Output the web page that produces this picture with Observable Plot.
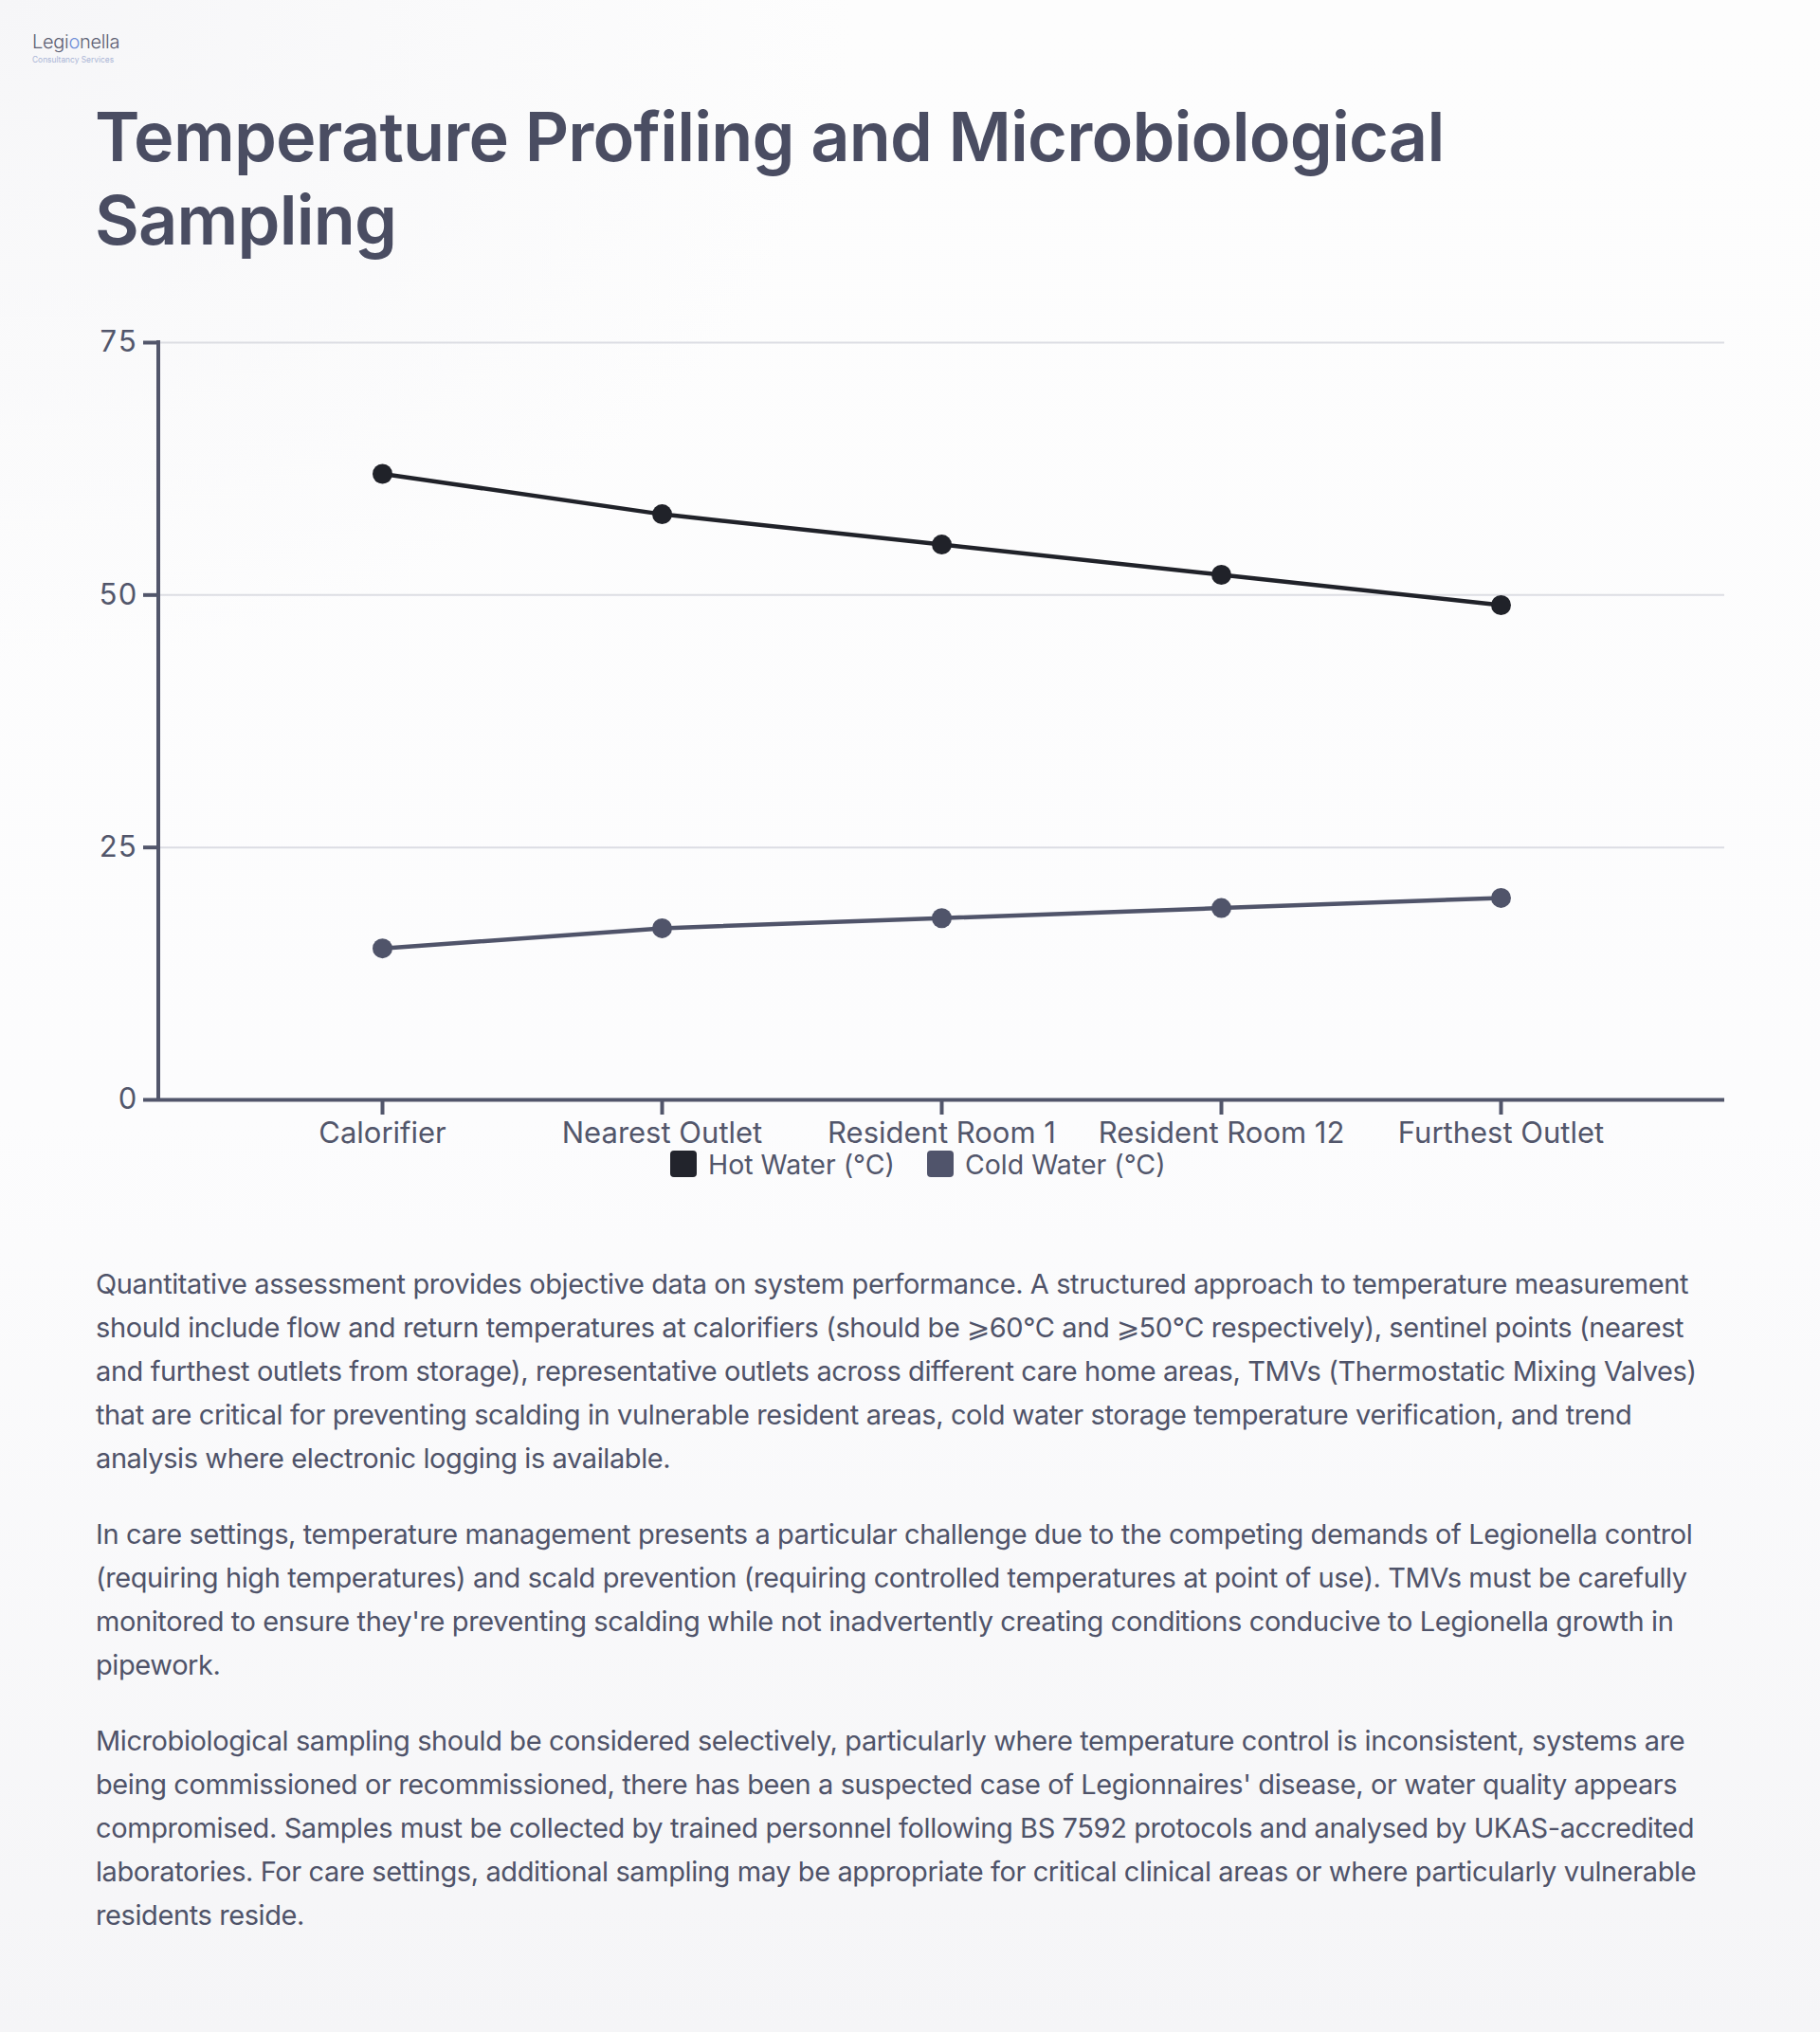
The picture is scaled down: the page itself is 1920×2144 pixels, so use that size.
<!DOCTYPE html>
<html>
<head>
<meta charset="utf-8">
<script src="https://cdn.jsdelivr.net/npm/d3@7"></script>
<script src="https://cdn.jsdelivr.net/npm/@observablehq/plot@0.6"></script>
<style>
  html, body { margin: 0; padding: 0; }
  body {
    width: 1920px; height: 2144px; position: relative; overflow: hidden;
    font-family: "Inter", "Noto Sans", sans-serif;
    background:
      radial-gradient(ellipse 900px 700px at 0px 0px, #f6f6f8 0%, rgba(246,246,248,0) 100%),
      linear-gradient(180deg, #fdfdfd 0%, #fcfcfd 55%, #f5f5f7 100%);
  }
  #logo { position: absolute; left: 34px; top: 32px; color: #5d6073; }
  #logo .name { font-size: 20px; font-weight: 300; letter-spacing: -0.3px; line-height: 24px; }
  #logo .name span { color: #6f8fd8; }
  #logo .sub { font-size: 8.4px; color: #aab5d6; line-height: 10px; margin-top: 2px; }
  h1 {
    position: absolute; left: 100px; top: 100px; margin: 0; width: 1600px;
    font-size: 72px; line-height: 88px; font-weight: 600; color: #4a4d62;
    letter-spacing: -0.8px;
  }
  #chart { position: absolute; left: 0; top: 330px; }
  #legend {
    position: absolute; left: 707px; top: 1212px; display: flex; align-items: center;
    font-size: 28.5px; color: #52566b; height: 32px; white-space: nowrap;
  }
  #legend .item { display: flex; align-items: center; margin-right: 34px; }
  #legend .sw { width: 28px; height: 28px; border-radius: 4px; margin-right: 12px; }
  .text { position: absolute; left: 101px; width: 1760px; font-size: 29px; line-height: 46px;
    color: #4f5369; letter-spacing: -0.4px; white-space: nowrap; }
  .text p { margin: 0 0 34px 0; }
</style>
</head>
<body>
<div id="logo"><div class="name">Legi<span>o</span>nella</div><div class="sub">Consultancy Services</div></div>
<h1 id="title"></h1>
<div id="chart"></div>
<div id="legend"></div>
<div class="text" id="text" style="top:1332px"></div>
<script>
const titleText = "Temperature Profiling and Microbiological Sampling";
const titleLines = ["Temperature Profiling and Microbiological", "Sampling"];
const categories = ["Calorifier", "Nearest Outlet", "Resident Room 1", "Resident Room 12", "Furthest Outlet"];
const hotWater = [62, 58, 55, 52, 49];
const coldWater = [15, 17, 18, 19, 20];
const yTicks = [0, 25, 50, 75];
const seriesNames = ["Hot Water (°C)", "Cold Water (°C)"];
const seriesColors = ["#202229", "#50546a"];
const legendColors = ["#22242c", "#50546b"];
const paragraphs = [
  ["Quantitative assessment provides objective data on system performance. A structured approach to temperature measurement",
   "should include flow and return temperatures at calorifiers (should be ⩾60°C and ⩾50°C respectively), sentinel points (nearest",
   "and furthest outlets from storage), representative outlets across different care home areas, TMVs (Thermostatic Mixing Valves)",
   "that are critical for preventing scalding in vulnerable resident areas, cold water storage temperature verification, and trend",
   "analysis where electronic logging is available."],
  ["In care settings, temperature management presents a particular challenge due to the competing demands of Legionella control",
   "(requiring high temperatures) and scald prevention (requiring controlled temperatures at point of use). TMVs must be carefully",
   "monitored to ensure they're preventing scalding while not inadvertently creating conditions conducive to Legionella growth in",
   "pipework."],
  ["Microbiological sampling should be considered selectively, particularly where temperature control is inconsistent, systems are",
   "being commissioned or recommissioned, there has been a suspected case of Legionnaires' disease, or water quality appears",
   "compromised. Samples must be collected by trained personnel following BS 7592 protocols and analysed by UKAS-accredited",
   "laboratories. For care settings, additional sampling may be appropriate for critical clinical areas or where particularly vulnerable",
   "residents reside."]
];

document.getElementById("title").innerHTML = titleLines.join("<br>");

const data = categories.flatMap((c, i) => [
  {category: c, series: seriesNames[0], value: hotWater[i]},
  {category: c, series: seriesNames[1], value: coldWater[i]}
]);

const axisColor = "#52566b";

function leftAxisLine(index, scales, values, dimensions) {
  const ns = "http://www.w3.org/2000/svg";
  const l = document.createElementNS(ns, "line");
  const x = dimensions.marginLeft;
  l.setAttribute("x1", x); l.setAttribute("x2", x);
  l.setAttribute("y1", scales.y(yTicks[yTicks.length - 1]) - 2);
  l.setAttribute("y2", scales.y(0) + 2);
  l.setAttribute("stroke", axisColor);
  l.setAttribute("stroke-width", 4);
  return l;
}

const chart = Plot.plot({
  width: 1920,
  height: 890,
  marginLeft: 167,
  marginRight: 101,
  marginTop: 31,
  marginBottom: 60,
  style: {fontFamily: "Inter, 'Noto Sans', sans-serif", fontSize: "31px", color: axisColor, background: "transparent", overflow: "visible"},
  x: {type: "point", domain: categories, padding: 0.8, label: null},
  y: {domain: [0, 75], label: null},
  color: {domain: seriesNames, range: seriesColors},
  marks: [
    Plot.gridY({ticks: yTicks.filter(t => t > 0), stroke: "#dcdde3", strokeOpacity: 1, strokeWidth: 2}),
    Plot.axisY({ticks: yTicks, tickSize: 16, tickPadding: 7, strokeWidth: 4, label: null, fontSize: 31}),
    Plot.axisX({tickSize: 16, tickPadding: 7, strokeWidth: 4, label: null, fontSize: 31}),
    Plot.ruleY([0], {stroke: axisColor, strokeWidth: 4}),
    leftAxisLine,
    Plot.line(data, {x: "category", y: "value", z: "series", stroke: "series", strokeWidth: 4.5}),
    Plot.dot(data, {x: "category", y: "value", fill: "series", r: 10.5})
  ]
});
document.getElementById("chart").appendChild(chart);

const legend = document.getElementById("legend");
seriesNames.forEach((name, i) => {
  const item = document.createElement("div");
  item.className = "item";
  const sw = document.createElement("div");
  sw.className = "sw";
  sw.style.background = legendColors[i];
  const label = document.createElement("span");
  label.textContent = name;
  item.appendChild(sw); item.appendChild(label);
  legend.appendChild(item);
});

const text = document.getElementById("text");
paragraphs.forEach(lines => {
  const p = document.createElement("p");
  p.innerHTML = lines.map(l => l.replace(/&/g, "&amp;").replace(/</g, "&lt;")).join("<br>");
  text.appendChild(p);
});
</script>
</body>
</html>
